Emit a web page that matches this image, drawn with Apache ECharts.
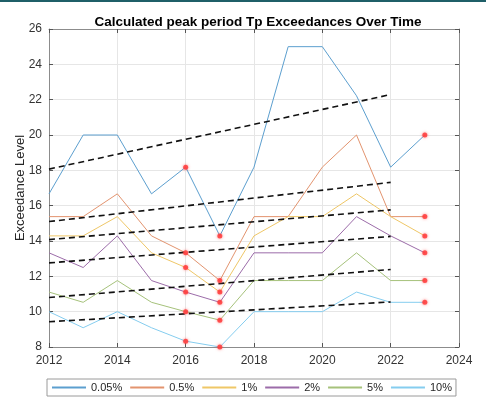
<!DOCTYPE html>
<html><head><meta charset="utf-8">
<script src="https://cdn.jsdelivr.net/npm/echarts@6/dist/echarts.min.js"></script>
<style>html,body{margin:0;padding:0;background:#fff}#c{width:486px;height:409px}</style>
</head><body><div id="c"></div>
<script>
const years = [2012,2013,2014,2015,2016,2017,2018,2019,2020,2021,2022,2023];
const seriesNames = ['0.05%','0.5%','1%','2%','5%','10%'];
const s005 = [16.67,20,20,16.67,18.18,14.29,18.18,25,25,22.22,18.18,20];
const s05  = [15.38,15.38,16.67,14.29,13.33,11.76,15.38,15.38,18.18,20,15.38,15.38];
const s1   = [14.29,14.29,15.38,13.33,12.5,11.11,14.29,15.38,15.38,16.67,15.38,14.29];
const s2   = [13.33,12.5,14.29,11.76,11.11,10.53,13.33,13.33,13.33,15.38,14.29,13.33];
const s5   = [11.11,10.53,11.76,10.53,10,9.52,11.76,11.76,11.76,13.33,11.76,11.76];
const s10  = [10,9.09,10,9.09,8.33,8,10,10,10,11.11,10.53,10.53];
const trendYears = [2012, 2022];
const trendStart = [18.07,15.1,14.08,12.76,10.8,9.43];
const trendEnd   = [22.29,17.32,15.76,14.26,12.39,10.55];
const markedYears = [2016, 2017, 2023];
const xTicks = {min:2012, max:2024, step:2};
const yTicks = {min:8, max:26, step:2};

const allValues = [s005,s05,s1,s2,s5,s10];
const colors = ['#5c9fcf','#e3946f','#efc767','#9c6ca9','#a6c27b','#85cdef'];

const series = [];
allValues.forEach((vals,i)=>{
  series.push({name:seriesNames[i],type:'line',data:years.map((y,j)=>[y,vals[j]]),
    symbol:'none',color:colors[i],lineStyle:{width:1,color:colors[i]},itemStyle:{color:colors[i]},z:2});
});
allValues.forEach((vals,i)=>{
  series.push({name:'trend'+i,type:'line',data:[[trendYears[0],trendStart[i]],[trendYears[1],trendEnd[i]]],
    symbol:'none',lineStyle:{width:1.6,color:'#111',type:[6,4]},z:3,silent:true});
});
const marks=[];
allValues.forEach(vals=>{markedYears.forEach(y=>{marks.push([y,vals[years.indexOf(y)]]);});});
series.push({name:'marks',type:'scatter',data:marks,symbol:'circle',symbolSize:5,
  itemStyle:{color:'#ff3b3b',opacity:0.85,shadowBlur:3,shadowColor:'rgba(255,80,80,0.8)'},z:4,silent:true});

const axisFont = {fontFamily:'Liberation Sans, Arial, sans-serif',fontSize:12,color:'#333'};
const chart = echarts.init(document.getElementById('c'),null,{renderer:'canvas'});
chart.setOption({
  animation:false,
  backgroundColor:'#fff',
  title:{text:'Calculated peak period Tp Exceedances Over Time',left:253,textAlign:'center',top:10,
    textStyle:{fontFamily:'Liberation Sans, Arial, sans-serif',fontSize:13.5,fontWeight:'bold',color:'#000'}},
  graphic:[{type:'rect',shape:{x:0,y:0,width:486,height:2},style:{fill:'#1f5f68'}}],
  grid:{left:49,right:27,top:29,bottom:62,containLabel:false,outerBoundsMode:'none'},
  legend:{data:seriesNames.map((n,i)=>({name:n,icon:'rect',itemStyle:{color:colors[i],borderWidth:0}})),
    left:47,top:379,orient:'horizontal',itemGap:8,itemWidth:34,itemHeight:2,
    padding:[2,4,2,5],borderColor:'#9a9a9a',borderWidth:1,
    textStyle:{fontFamily:'Liberation Sans, Arial, sans-serif',fontSize:11,color:'#262626',lineHeight:13}},
  xAxis:[{type:'value',min:xTicks.min,max:xTicks.max,interval:xTicks.step,
    axisLine:{lineStyle:{color:'#8c8c8c'}},axisTick:{inside:true,length:4,lineStyle:{color:'#555'}},
    axisLabel:Object.assign({margin:8,formatter:v=>String(v)},axisFont),
    splitLine:{show:true,lineStyle:{color:'#e6e6e6'}}},
    {type:'value',position:'top',min:xTicks.min,max:xTicks.max,interval:xTicks.step,
    axisLine:{show:true,lineStyle:{color:'#8c8c8c'}},axisTick:{show:true,inside:true,length:4,lineStyle:{color:'#555'}},
    axisLabel:{show:false},splitLine:{show:false}}],
  yAxis:[{type:'value',min:yTicks.min,max:yTicks.max,interval:yTicks.step,name:'Exceedance Level',
    nameLocation:'middle',nameGap:22,nameMoveOverlap:false,
    nameTextStyle:{fontFamily:'Liberation Sans, Arial, sans-serif',fontSize:13,color:'#262626'},
    axisLine:{show:true,lineStyle:{color:'#8c8c8c'}},axisTick:{show:true,inside:true,length:4,lineStyle:{color:'#555'}},
    axisLabel:Object.assign({margin:7},axisFont),
    splitLine:{show:true,lineStyle:{color:'#e6e6e6'}}},
    {type:'value',position:'right',min:yTicks.min,max:yTicks.max,interval:yTicks.step,
    axisLine:{show:true,lineStyle:{color:'#8c8c8c'}},axisTick:{show:true,inside:true,length:4,lineStyle:{color:'#555'}},
    axisLabel:{show:false},splitLine:{show:false}}],
  series:series
});
</script></body></html>
